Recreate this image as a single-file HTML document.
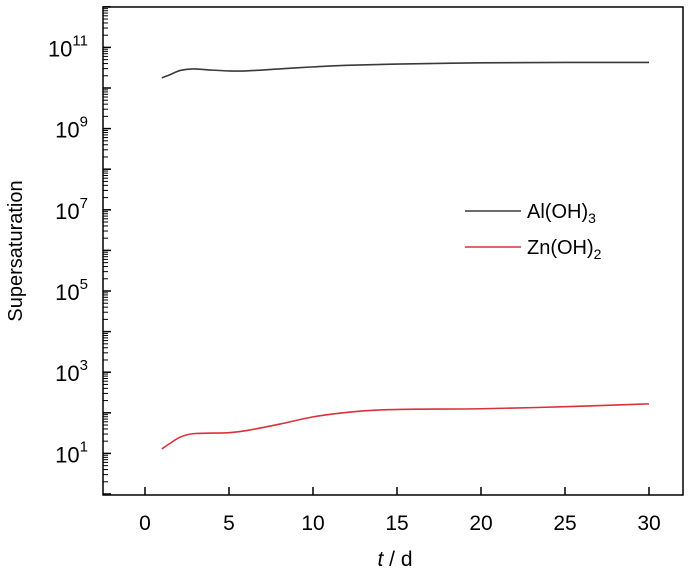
<!DOCTYPE html>
<html><head><meta charset="utf-8"><style>
html,body{margin:0;padding:0;background:#fff;}
svg{display:block;font-family:"Liberation Sans",Arial,sans-serif;}
</style></head><body>
<svg id="chart" width="700" height="576" viewBox="0 0 700 576">
<g id="ticks"></g>
<g id="series"></g>
<rect x="103" y="7" width="580" height="488" fill="none" stroke="#000" stroke-width="1.5"/>
<text x="22" y="251" font-size="20" text-anchor="middle" transform="rotate(-90 22 251)">Supersaturation</text>
<text x="395" y="566" font-size="21" text-anchor="middle"><tspan font-style="italic">t</tspan> / d</text>
<g>
<line x1="465" y1="211" x2="521" y2="211" stroke="#3a3a3a" stroke-width="1.5"/>
<text x="527" y="218" font-size="20">Al(OH)<tspan font-size="14" dy="5">3</tspan></text>
<line x1="465" y1="247" x2="521" y2="247" stroke="#d9323a" stroke-width="1.5"/>
<text x="527" y="254" font-size="20">Zn(OH)<tspan font-size="14" dy="5">2</tspan></text>
</g>
</svg>
<script>
const xTicks=[0,5,10,15,20,25,30];
const yDecades=[0,1,2,3,4,5,6,7,8,9,10,11,12];
const yLabelExp=[1,3,5,7,9,11];
const tAl=[1,1.5,2,2.5,3,4,5,6,8,10,12,15,20,25,30];
const alLog=[10.25,10.33,10.42,10.46,10.47,10.44,10.42,10.42,10.47,10.52,10.56,10.59,10.62,10.63,10.63];
const tZn=[1,1.5,2,2.5,3,4,5,6,8,10,12,14,16,20,25,30];
const znLog=[1.11,1.25,1.38,1.46,1.49,1.50,1.51,1.56,1.72,1.90,2.01,2.07,2.09,2.10,2.15,2.22];
const NS='http://www.w3.org/2000/svg';
const X0=145,XS=16.8,Y0=494,YS=40.6;
const xs=v=>X0+v*XS, ys=v=>Y0-v*YS;
const tk=document.getElementById('ticks'), sg=document.getElementById('series');
function mk(tag,at,p){const e=document.createElementNS(NS,tag);for(const k in at)e.setAttribute(k,at[k]);p.appendChild(e);return e;}
xTicks.forEach(v=>{
 const l=mk('line',{x1:xs(v),x2:xs(v),y1:495,y2:487,stroke:'#000','stroke-width':1.5},tk);
 
 
 const t=mk('text',{x:xs(v),y:530,'font-size':21,'text-anchor':'middle'},tk);
 t.textContent=v;
 
 
});
yDecades.forEach(d=>{
 const l=mk('line',{x1:103,x2:111,y1:ys(d),y2:ys(d),stroke:'#000','stroke-width':1.5},tk);
 
 
 if(d<12)for(let m=2;m<=9;m++){
  const y=ys(d+Math.log10(m));
  const ml=mk('line',{x1:103,x2:108,y1:y,y2:y,stroke:'#000','stroke-width':1},tk);
  
  
 }
});
yLabelExp.forEach(d=>{
 const t=mk('text',{x:88,y:ys(d)+9,'font-size':22,'text-anchor':'end'},tk);
 
 
 const a=mk('tspan',{},t);a.textContent='10';
 const b=mk('tspan',{'font-size':15,dy:-11},t);b.textContent=d;
});
function path(tx,ty,color,name){
 const pts=tx.map((t,i)=>[xs(t),ys(ty[i])]);
 let d='M'+pts[0][0]+','+pts[0][1];
 for(let i=0;i<pts.length-1;i++){
  const p0=pts[Math.max(0,i-1)],p1=pts[i],p2=pts[i+1],p3=pts[Math.min(pts.length-1,i+2)];
  d+=' C'+(p1[0]+(p2[0]-p0[0])/6)+','+(p1[1]+(p2[1]-p0[1])/6)+' '+(p2[0]-(p3[0]-p1[0])/6)+','+(p2[1]-(p3[1]-p1[1])/6)+' '+p2[0]+','+p2[1];
 }
 const e=mk('path',{d:d,fill:'none',stroke:color,'stroke-width':1.6},sg);
 
 
}
path(tAl,alLog,'#3a3a3a','line-aloh3');
path(tZn,znLog,'#d9323a','line-znoh2');
</script>
</body></html>
